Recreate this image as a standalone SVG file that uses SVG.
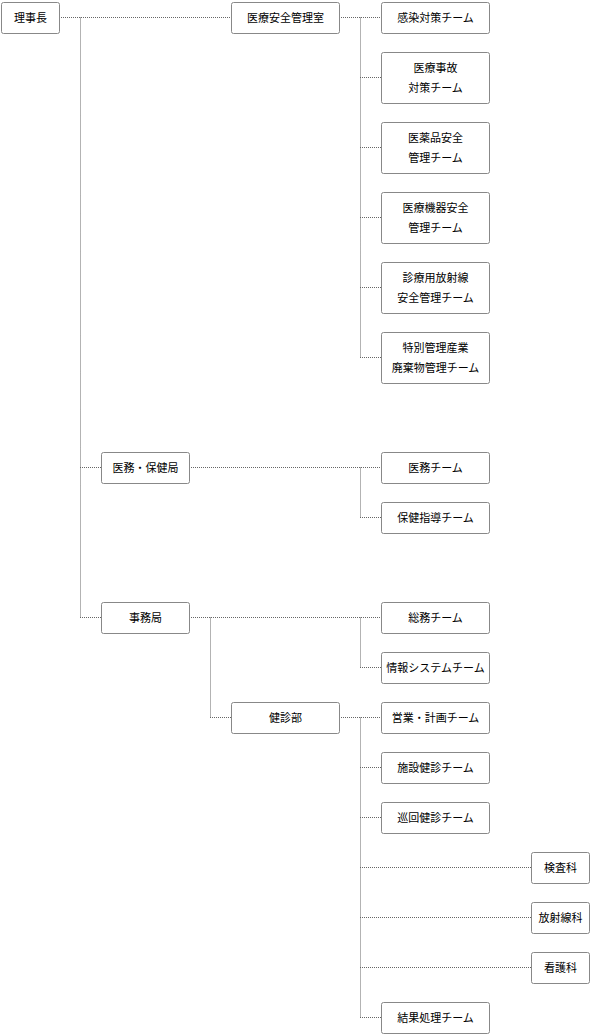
<svg xmlns="http://www.w3.org/2000/svg" width="590" height="1034" viewBox="0 0 590 1034">
<style>
.n rect{fill:#fff;stroke:#888;stroke-width:1}
.n text{font-family:"Noto Sans CJK JP","Noto Sans",sans-serif;font-size:11px;fill:#000;text-anchor:middle}
.c path{fill:none;stroke:#666;stroke-width:1;stroke-dasharray:1 1}
</style>
<rect width="590" height="1034" fill="#fff"/>
<g class="c">
<path d="M59 17.5H231M80.5 17.5V617.5M80 467.5H101M80 617.5H101"/>
<path d="M339 17.5H381M360.5 17.5V357.5M360 77.5H381M360 147.5H381M360 217.5H381M360 287.5H381M360 357.5H381"/>
<path d="M189 467.5H381M360.5 467.5V517.5M360 517.5H381"/>
<path d="M189 617.5H381M360.5 617.5V667.5M360 667.5H381M210.5 617.5V717.5M210 717.5H231"/>
<path d="M339 717.5H381M360.5 717.5V1017.5M360 1017.5H381M360 767.5H381M360 817.5H381M360 867.5H531M360 917.5H531M360 967.5H531"/>
</g>
<g class="n" id="rijicho"><rect x="1.5" y="2.5" width="58" height="31" rx="2"/><text x="30.5" y="21.5">理事長</text></g>
<g class="n" id="iryoanzen"><rect x="231.5" y="2.5" width="108" height="31" rx="2"/><text x="285.5" y="21.5">医療安全管理室</text></g>
<g class="n" id="kansen"><rect x="381.5" y="2.5" width="108" height="31" rx="2"/><text x="435.5" y="21.5">感染対策チーム</text></g>
<g class="n" id="jiko"><rect x="381.5" y="52.5" width="108" height="51" rx="2"/><text x="435.5" y="71.5">医療事故</text><text x="435.5" y="91.5">対策チーム</text></g>
<g class="n" id="iyakuhin"><rect x="381.5" y="122.5" width="108" height="51" rx="2"/><text x="435.5" y="141.5">医薬品安全</text><text x="435.5" y="161.5">管理チーム</text></g>
<g class="n" id="kiki"><rect x="381.5" y="192.5" width="108" height="51" rx="2"/><text x="435.5" y="211.5">医療機器安全</text><text x="435.5" y="231.5">管理チーム</text></g>
<g class="n" id="hoshasen"><rect x="381.5" y="262.5" width="108" height="51" rx="2"/><text x="435.5" y="281.5">診療用放射線</text><text x="435.5" y="301.5">安全管理チーム</text></g>
<g class="n" id="haikibutsu"><rect x="381.5" y="332.5" width="108" height="51" rx="2"/><text x="435.5" y="351.5">特別管理産業</text><text x="435.5" y="371.5">廃棄物管理チーム</text></g>
<g class="n" id="imuhoken"><rect x="101.5" y="452.5" width="88" height="31" rx="2"/><text x="145.5" y="471.5">医務・保健局</text></g>
<g class="n" id="imu"><rect x="381.5" y="452.5" width="108" height="31" rx="2"/><text x="435.5" y="471.5">医務チーム</text></g>
<g class="n" id="hokenshido"><rect x="381.5" y="502.5" width="108" height="31" rx="2"/><text x="435.5" y="521.5">保健指導チーム</text></g>
<g class="n" id="jimukyoku"><rect x="101.5" y="602.5" width="88" height="31" rx="2"/><text x="145.5" y="621.5">事務局</text></g>
<g class="n" id="somu"><rect x="381.5" y="602.5" width="108" height="31" rx="2"/><text x="435.5" y="621.5">総務チーム</text></g>
<g class="n" id="joho"><rect x="381.5" y="652.5" width="108" height="31" rx="2"/><text x="435.5" y="671.5">情報システムチーム</text></g>
<g class="n" id="kenshinbu"><rect x="231.5" y="702.5" width="108" height="31" rx="2"/><text x="285.5" y="721.5">健診部</text></g>
<g class="n" id="eigyo"><rect x="381.5" y="702.5" width="108" height="31" rx="2"/><text x="435.5" y="721.5">営業・計画チーム</text></g>
<g class="n" id="shisetsu"><rect x="381.5" y="752.5" width="108" height="31" rx="2"/><text x="435.5" y="771.5">施設健診チーム</text></g>
<g class="n" id="junkai"><rect x="381.5" y="802.5" width="108" height="31" rx="2"/><text x="435.5" y="821.5">巡回健診チーム</text></g>
<g class="n" id="kensa"><rect x="531.5" y="852.5" width="58" height="31" rx="2"/><text x="560.5" y="871.5">検査科</text></g>
<g class="n" id="hoshasenka"><rect x="531.5" y="902.5" width="58" height="31" rx="2"/><text x="560.5" y="921.5">放射線科</text></g>
<g class="n" id="kango"><rect x="531.5" y="952.5" width="58" height="31" rx="2"/><text x="560.5" y="971.5">看護科</text></g>
<g class="n" id="kekka"><rect x="381.5" y="1002.5" width="108" height="31" rx="2"/><text x="435.5" y="1021.5">結果処理チーム</text></g>
</svg>
